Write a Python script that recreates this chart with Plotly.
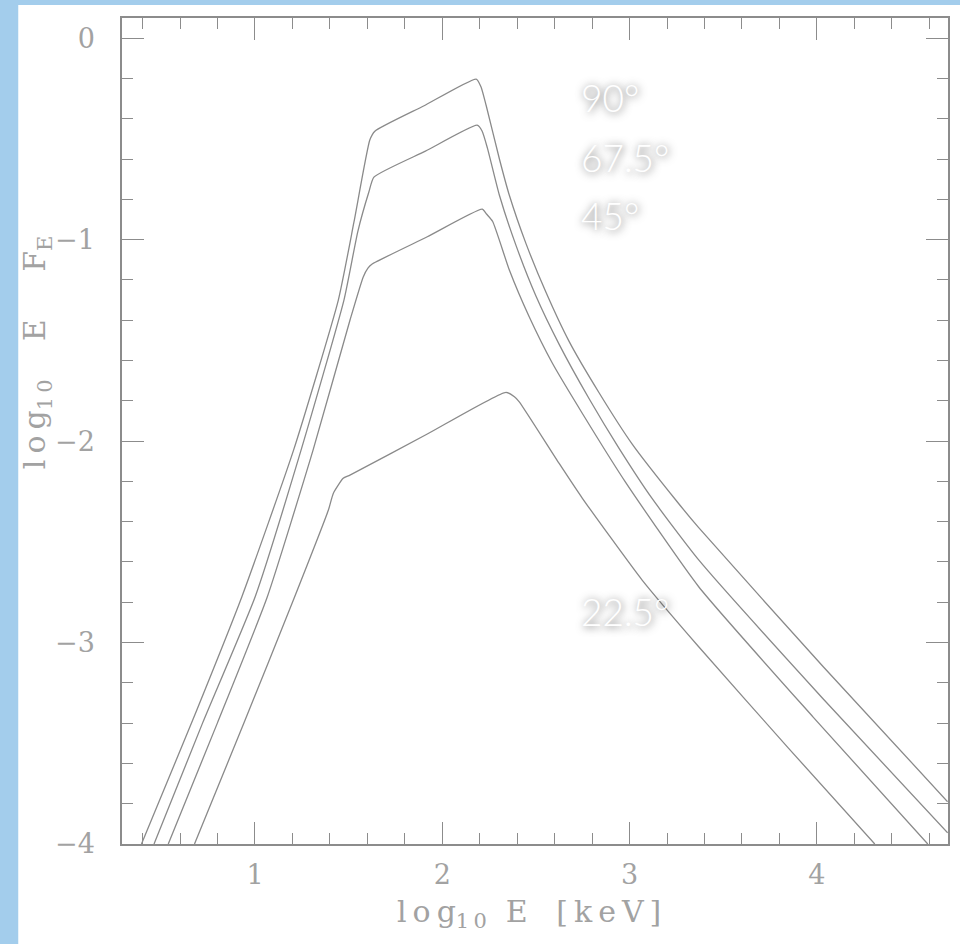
import plotly.graph_objects as go

# ---- data (log10 E [keV], log10 E F_E) ----
x_90 = [0.394, 0.661, 0.931, 1.206, 1.445, 1.528, 1.613, 1.640, 1.90, 2.181, 2.207, 2.234, 2.305, 2.358,
        2.447, 2.553, 2.677, 2.837, 3.014, 3.253, 3.369, 4.034, 4.698]
y_90 = [-4.000, -3.400, -2.770, -2.045, -1.300, -0.915, -0.506, -0.462, -0.337, -0.203, -0.242, -0.333, -0.600, -0.780,
        -1.020, -1.260, -1.505, -1.760, -2.015, -2.300, -2.430, -3.120, -3.790]

x_675 = [0.461, 0.720, 1.002, 1.246, 1.475, 1.549, 1.608, 1.635, 1.91, 2.186, 2.213, 2.241, 2.305, 2.394,
         2.500, 2.624, 2.784, 2.943, 3.120, 3.369, 4.034, 4.698]
y_675 = [-4.000, -3.400, -2.770, -2.045, -1.300, -0.960, -0.764, -0.690, -0.561, -0.432, -0.462, -0.546, -0.780, -1.030,
         -1.280, -1.520, -1.790, -2.035, -2.285, -2.590, -3.280, -3.945]

x_45 = [0.537, 0.799, 1.065, 1.310, 1.507, 1.578, 1.603, 1.624, 1.92, 2.213, 2.236, 2.269, 2.358, 2.464,
        2.588, 2.748, 2.979, 3.369, 3.980, 4.592]
y_45 = [-4.000, -3.400, -2.775, -2.045, -1.400, -1.185, -1.141, -1.122, -0.986, -0.849, -0.873, -0.910, -1.151, -1.383,
        -1.614, -1.863, -2.205, -2.723, -3.370, -4.000]

x_225 = [0.677, 0.943, 1.205, 1.392, 1.418, 1.471, 1.507, 1.92, 2.340, 2.385, 2.411, 2.624, 2.748, 3.067,
         3.369, 3.848, 4.309]
y_225 = [-4.000, -3.395, -2.789, -2.342, -2.260, -2.185, -2.169, -1.965, -1.758, -1.780, -1.805, -2.111, -2.284, -2.690,
         -3.021, -3.524, -4.000]

labels = ["90°", "67.5°", "45°", "22.5°"]
label_x = [2.73, 2.73, 2.73, 2.73]
label_y = [-0.293, -0.591, -0.878, -2.844]

x_range = [0.29, 4.70]
y_range = [-4.0, 0.1]

line_col = "#8a8a8a"
axis_col = "#8c8c8c"
text_col = "#a2a2a2"

fig = go.Figure()
for xs, ys in [(x_90, y_90), (x_675, y_675), (x_45, y_45), (x_225, y_225)]:
    fig.add_trace(go.Scatter(x=xs, y=ys, mode="lines",
                             line=dict(color=line_col, width=1.3, shape="spline", smoothing=0.5),
                             showlegend=False, hoverinfo="skip"))

for t, lx, ly in zip(labels, label_x, label_y):
    fig.add_annotation(x=lx, y=ly, text=t, showarrow=False, xanchor="left", yanchor="middle",
                       font=dict(family="Lato", size=37, color="white", weight=300,
                                 shadow="1px 1px 8px rgba(0,0,0,0.7)"))

W, H = 960, 944
ml, mr, mt, mb = 122, 10, 18, 100
pw, ph = W - ml - mr, H - mt - mb

# white page region over blue background
fig.add_shape(type="rect", xref="paper", yref="paper", layer="below",
              x0=(18 - ml) / pw, x1=(W - ml) / pw + 0.01,
              y0=-(mb + 5) / ph, y1=(H - 5 - mb) / ph,
              fillcolor="white", line=dict(width=0))

axis_common = dict(showgrid=False, zeroline=False, showline=True, linecolor=axis_col, linewidth=1.5,
                   mirror="allticks", ticks="inside", ticklen=22, tickcolor=axis_col, tickwidth=1.2,
                   tickfont=dict(family="DejaVu Serif", size=27, color=text_col))

fig.update_xaxes(range=x_range, tick0=0, dtick=1,
                 minor=dict(dtick=0.2, tick0=0, ticks="inside", ticklen=11, tickcolor=axis_col, tickwidth=1.2),
                 ticklabelstandoff=6, **axis_common)
fig.update_yaxes(range=y_range, tick0=0, dtick=1,
                 minor=dict(dtick=0.2, tick0=0, ticks="inside", ticklen=11, tickcolor=axis_col, tickwidth=1.2),
                 ticklabelstandoff=20, **axis_common)

ts = "\u2009"
sp = "&nbsp;"
xtitle = "l" + ts + "o" + ts + "g<sub>1" + ts + "0</sub>" + sp * 2 + "E" + sp * 3 + "[" + ts + "k" + ts + "e" + ts + "V" + ts + "]"
ytitle = "l" + ts + "o" + ts + "g<sub>1" + ts + "0</sub>" + sp * 4 + "E" + sp * 5 + "F<sub>E</sub>"

fig.add_annotation(xref="paper", yref="paper", x=(530 - ml) / pw, y=-(913 - (mt + ph)) / ph,
                   text=xtitle, showarrow=False, xanchor="center", yanchor="middle",
                   font=dict(family="DejaVu Serif", size=30, color=text_col))
fig.add_annotation(xref="paper", yref="paper", x=(36 - ml) / pw, y=(mt + ph - 352) / ph,
                   text=ytitle, showarrow=False, textangle=-90,
                   xanchor="center", yanchor="middle",
                   font=dict(family="DejaVu Serif", size=30, color=text_col))

fig.update_layout(width=W, height=H, margin=dict(l=ml, r=mr, t=mt, b=mb),
                  paper_bgcolor="#a3cdec", plot_bgcolor="white")

fig.write_html("out.html")
